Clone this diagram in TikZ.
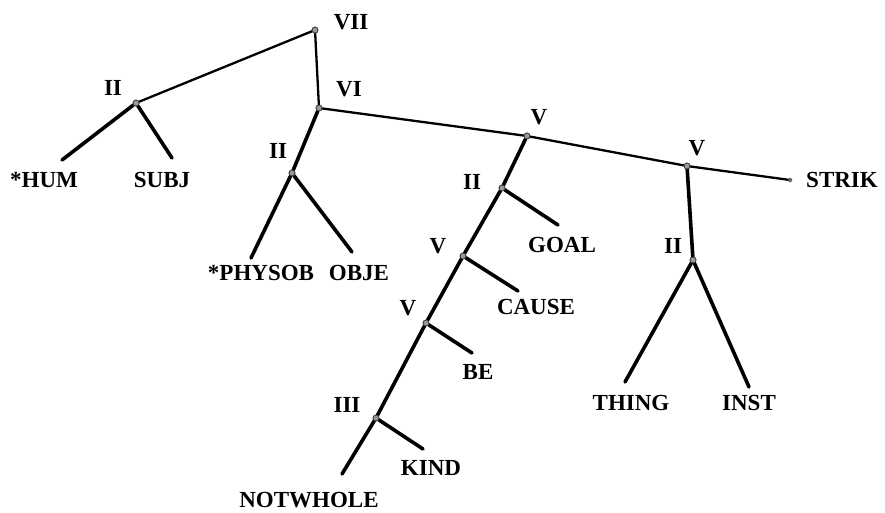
\documentclass[tikz,border=0pt]{standalone}
\usepackage{fontspec}
\setmainfont{Liberation Serif}
\begin{document}
\begin{tikzpicture}[x=1pt,y=-1pt,
  lab/.style={font=\fontsize{23}{26}\selectfont\bfseries, inner sep=0pt, text height=15pt, text depth=0pt, anchor=center},
  jn/.style={circle, draw=black!75, fill=black!40, line width=0.8pt, minimum size=6pt, inner sep=0pt},
  thinln/.style={line width=2.3pt, line cap=round},
  thickln/.style={line width=3.6pt, line cap=round}]
\useasboundingbox (0,0) rectangle (885,512);
% junctions
\node[jn] (vii) at (315,30) {};
\node[jn] (iil) at (136,103) {};
\node[jn] (vi) at (319,108) {};
\node[jn] (iim) at (292,173) {};
\node[jn] (vt) at (527,136) {};
\node[jn] (vr) at (687,166) {};
\node[jn] (iig) at (502,188) {};
\node[jn] (vc) at (463,256) {};
\node[jn] (iir) at (693,260) {};
\node[jn] (vb) at (426,323) {};
\node[jn] (iii) at (376,418) {};
% leaf ends
\coordinate (hum) at (62,160);
\coordinate (subj) at (172,158);
\coordinate (phys) at (251,258);
\coordinate (obje) at (352,252);
\node[circle, fill=black!60, minimum size=4.5pt, inner sep=0pt] (strik) at (790,180) {};
\coordinate (goal) at (558,225);
\coordinate (cause) at (518,291);
\coordinate (thing) at (625,382);
\coordinate (inst) at (749,387);
\coordinate (be) at (472,353);
\coordinate (kind) at (423,449);
\coordinate (notw) at (342,474);
% thin spine
\draw[thinln] (iil) -- (vii);
\draw[thinln] (vii) -- (vi);
\draw[thinln] (vi) -- (vt);
\draw[thinln] (vt) -- (vr);
\draw[thinln] (vr) -- (strik);
% thick branches
\draw[thickln] (iil) -- (hum);
\draw[thickln] (iil) -- (subj);
\draw[thickln] (vi) -- (iim);
\draw[thickln] (iim) -- (phys);
\draw[thickln] (iim) -- (obje);
\draw[thickln] (vt) -- (iig);
\draw[thickln] (iig) -- (goal);
\draw[thickln] (iig) -- (vc);
\draw[thickln] (vc) -- (cause);
\draw[thickln] (vc) -- (vb);
\draw[thickln] (vb) -- (be);
\draw[thickln] (vb) -- (iii);
\draw[thickln] (iii) -- (kind);
\draw[thickln] (iii) -- (notw);
\draw[thickln] (vr) -- (iir);
\draw[thickln] (iir) -- (thing);
\draw[thickln] (iir) -- (inst);
% redraw junction dots on top
\foreach \n in {vii,iil,vi,iim,vt,vr,iig,vc,iir,vb,iii} \node[jn] at (\n) {};
% labels
\node[lab] (lvii) at (351,22) {VII};
\node[lab] (liil) at (113,88) {II};
\node[lab] (lvi) at (349,89) {VI};
\node[lab] (lhum) at (44,180) {*HUM};
\node[lab] (lsubj) at (162,180) {SUBJ};
\node[lab] (liim) at (278,151) {II};
\node[lab] (lphys) at (261,273) {*PHYSOB};
\node[lab] (lobje) at (359,273) {OBJE};
\node[lab] (lvt) at (539,117) {V};
\node[lab] (lvr) at (697,148) {V};
\node[lab] (lstrik) at (842,180) {STRIK};
\node[lab] (liig) at (472,182) {II};
\node[lab] (lgoal) at (562,245) {GOAL};
\node[lab] (lvc) at (438,246) {V};
\node[lab] (lcause) at (536,307) {CAUSE};
\node[lab] (liir) at (673,246) {II};
\node[lab] (lvb) at (408,308) {V};
\node[lab] (lbe) at (478,372) {BE};
\node[lab] (liii) at (347,405) {III};
\node[lab] (lkind) at (431,468) {KIND};
\node[lab] (lnotw) at (309,500) {NOTWHOLE};
\node[lab] (lthing) at (631,403) {THING};
\node[lab] (linst) at (749,403) {INST};
\end{tikzpicture}
\end{document}
